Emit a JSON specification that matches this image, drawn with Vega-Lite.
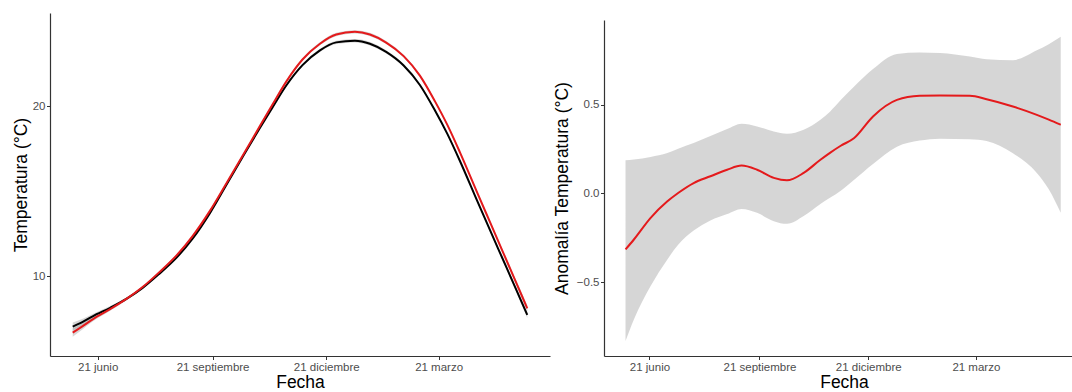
{
  "$schema": "https://vega.github.io/schema/vega-lite/v6.json",
  "background": "white",
  "padding": {"left": 12, "top": 13, "right": 0, "bottom": 0},
  "spacing": 3,
  "config": {
    "view": {"stroke": null},
    "font": "Liberation Sans",
    "axis": {
      "grid": false,
      "domainColor": "#333333",
      "domainWidth": 1.2,
      "tickColor": "#333333",
      "tickSize": 3.5,
      "tickWidth": 1,
      "labelColor": "#4d4d4d",
      "labelFont": "Liberation Sans",
      "labelFontSize": 11.5,
      "titleFont": "Liberation Sans",
      "titleFontSize": 17.5,
      "titleFontWeight": "normal",
      "titleColor": "#000000"
    },
    "axisX": {"labelPadding": 1.5, "titlePadding": 0.5},
    "axisY": {"labelPadding": 1.5}
  },
  "datasets": {
    "izq": [
      {"fecha": "2018-06-01T00:00:00", "serie": "reciente", "temp": 6.67, "lo": 6.42, "hi": 6.92},
      {"fecha": "2018-06-09T00:00:00", "serie": "reciente", "temp": 7.05, "lo": 6.87, "hi": 7.23},
      {"fecha": "2018-06-17T00:00:00", "serie": "reciente", "temp": 7.45, "lo": 7.32, "hi": 7.58},
      {"fecha": "2018-07-01T00:00:00", "serie": "reciente", "temp": 8.05, "lo": 7.95, "hi": 8.15},
      {"fecha": "2018-07-14T00:00:00", "serie": "reciente", "temp": 8.65, "lo": 8.57, "hi": 8.73},
      {"fecha": "2018-07-27T00:00:00", "serie": "reciente", "temp": 9.35, "lo": 9.28, "hi": 9.42},
      {"fecha": "2018-08-09T00:00:00", "serie": "reciente", "temp": 10.2, "lo": 10.13, "hi": 10.27},
      {"fecha": "2018-08-23T00:00:00", "serie": "reciente", "temp": 11.2, "lo": 11.13, "hi": 11.27},
      {"fecha": "2018-09-05T00:00:00", "serie": "reciente", "temp": 12.35, "lo": 12.28, "hi": 12.42},
      {"fecha": "2018-09-19T00:00:00", "serie": "reciente", "temp": 13.85, "lo": 13.78, "hi": 13.92},
      {"fecha": "2018-10-02T00:00:00", "serie": "reciente", "temp": 15.45, "lo": 15.38, "hi": 15.52},
      {"fecha": "2018-10-16T00:00:00", "serie": "reciente", "temp": 17.2, "lo": 17.13, "hi": 17.27},
      {"fecha": "2018-10-29T00:00:00", "serie": "reciente", "temp": 18.85, "lo": 18.78, "hi": 18.92},
      {"fecha": "2018-11-08T00:00:00", "serie": "reciente", "temp": 20.1, "lo": 20.03, "hi": 20.17},
      {"fecha": "2018-11-19T00:00:00", "serie": "reciente", "temp": 21.45, "lo": 21.37, "hi": 21.53},
      {"fecha": "2018-12-02T00:00:00", "serie": "reciente", "temp": 22.75, "lo": 22.67, "hi": 22.83},
      {"fecha": "2018-12-16T00:00:00", "serie": "reciente", "temp": 23.68, "lo": 23.59, "hi": 23.77},
      {"fecha": "2018-12-29T00:00:00", "serie": "reciente", "temp": 24.22, "lo": 24.12, "hi": 24.32},
      {"fecha": "2019-01-13T00:00:00", "serie": "reciente", "temp": 24.38, "lo": 24.28, "hi": 24.48},
      {"fecha": "2019-01-25T00:00:00", "serie": "reciente", "temp": 24.22, "lo": 24.12, "hi": 24.32},
      {"fecha": "2019-02-07T00:00:00", "serie": "reciente", "temp": 23.75, "lo": 23.66, "hi": 23.84},
      {"fecha": "2019-02-21T00:00:00", "serie": "reciente", "temp": 22.95, "lo": 22.87, "hi": 23.03},
      {"fecha": "2019-03-06T00:00:00", "serie": "reciente", "temp": 21.8, "lo": 21.72, "hi": 21.88},
      {"fecha": "2019-03-18T00:00:00", "serie": "reciente", "temp": 20.3, "lo": 20.22, "hi": 20.38},
      {"fecha": "2019-03-28T00:00:00", "serie": "reciente", "temp": 18.9, "lo": 18.82, "hi": 18.98},
      {"fecha": "2019-04-07T00:00:00", "serie": "reciente", "temp": 17.3, "lo": 17.22, "hi": 17.38},
      {"fecha": "2019-04-21T00:00:00", "serie": "reciente", "temp": 14.9, "lo": 14.82, "hi": 14.98},
      {"fecha": "2019-05-01T00:00:00", "serie": "reciente", "temp": 13.2, "lo": 13.11, "hi": 13.29},
      {"fecha": "2019-05-11T00:00:00", "serie": "reciente", "temp": 11.5, "lo": 11.4, "hi": 11.6},
      {"fecha": "2019-05-21T00:00:00", "serie": "reciente", "temp": 9.8, "lo": 9.67, "hi": 9.93},
      {"fecha": "2019-05-31T00:00:00", "serie": "reciente", "temp": 8.1, "lo": 7.92, "hi": 8.28},
      {"fecha": "2018-06-01T00:00:00", "serie": "referencia", "temp": 7.02, "lo": 6.77, "hi": 7.27},
      {"fecha": "2018-06-09T00:00:00", "serie": "referencia", "temp": 7.3, "lo": 7.12, "hi": 7.48},
      {"fecha": "2018-06-17T00:00:00", "serie": "referencia", "temp": 7.63, "lo": 7.5, "hi": 7.76},
      {"fecha": "2018-07-01T00:00:00", "serie": "referencia", "temp": 8.13, "lo": 8.03, "hi": 8.23},
      {"fecha": "2018-07-14T00:00:00", "serie": "referencia", "temp": 8.65, "lo": 8.57, "hi": 8.73},
      {"fecha": "2018-07-27T00:00:00", "serie": "referencia", "temp": 9.3, "lo": 9.23, "hi": 9.37},
      {"fecha": "2018-08-09T00:00:00", "serie": "referencia", "temp": 10.11, "lo": 10.04, "hi": 10.18},
      {"fecha": "2018-08-23T00:00:00", "serie": "referencia", "temp": 11.07, "lo": 11.0, "hi": 11.14},
      {"fecha": "2018-09-05T00:00:00", "serie": "referencia", "temp": 12.2, "lo": 12.13, "hi": 12.27},
      {"fecha": "2018-09-19T00:00:00", "serie": "referencia", "temp": 13.72, "lo": 13.65, "hi": 13.79},
      {"fecha": "2018-10-02T00:00:00", "serie": "referencia", "temp": 15.36, "lo": 15.29, "hi": 15.43},
      {"fecha": "2018-10-16T00:00:00", "serie": "referencia", "temp": 17.13, "lo": 17.06, "hi": 17.2},
      {"fecha": "2018-10-29T00:00:00", "serie": "referencia", "temp": 18.73, "lo": 18.66, "hi": 18.8},
      {"fecha": "2018-11-08T00:00:00", "serie": "referencia", "temp": 19.93, "lo": 19.86, "hi": 20.0},
      {"fecha": "2018-11-19T00:00:00", "serie": "referencia", "temp": 21.22, "lo": 21.14, "hi": 21.3},
      {"fecha": "2018-12-02T00:00:00", "serie": "referencia", "temp": 22.42, "lo": 22.34, "hi": 22.5},
      {"fecha": "2018-12-16T00:00:00", "serie": "referencia", "temp": 23.29, "lo": 23.2, "hi": 23.38},
      {"fecha": "2018-12-29T00:00:00", "serie": "referencia", "temp": 23.76, "lo": 23.66, "hi": 23.86},
      {"fecha": "2019-01-13T00:00:00", "serie": "referencia", "temp": 23.86, "lo": 23.76, "hi": 23.96},
      {"fecha": "2019-01-25T00:00:00", "serie": "referencia", "temp": 23.68, "lo": 23.58, "hi": 23.78},
      {"fecha": "2019-02-07T00:00:00", "serie": "referencia", "temp": 23.2, "lo": 23.11, "hi": 23.29},
      {"fecha": "2019-02-21T00:00:00", "serie": "referencia", "temp": 22.4, "lo": 22.32, "hi": 22.48},
      {"fecha": "2019-03-06T00:00:00", "serie": "referencia", "temp": 21.25, "lo": 21.17, "hi": 21.33},
      {"fecha": "2019-03-18T00:00:00", "serie": "referencia", "temp": 19.76, "lo": 19.68, "hi": 19.84},
      {"fecha": "2019-03-28T00:00:00", "serie": "referencia", "temp": 18.37, "lo": 18.29, "hi": 18.45},
      {"fecha": "2019-04-07T00:00:00", "serie": "referencia", "temp": 16.79, "lo": 16.71, "hi": 16.87},
      {"fecha": "2019-04-21T00:00:00", "serie": "referencia", "temp": 14.41, "lo": 14.33, "hi": 14.49},
      {"fecha": "2019-05-01T00:00:00", "serie": "referencia", "temp": 12.73, "lo": 12.64, "hi": 12.82},
      {"fecha": "2019-05-11T00:00:00", "serie": "referencia", "temp": 11.06, "lo": 10.96, "hi": 11.16},
      {"fecha": "2019-05-21T00:00:00", "serie": "referencia", "temp": 9.39, "lo": 9.26, "hi": 9.52},
      {"fecha": "2019-05-31T00:00:00", "serie": "referencia", "temp": 7.71, "lo": 7.53, "hi": 7.89}
    ],
    "der": [
      {"fecha": "2018-06-01T00:00:00", "anom": -0.316, "lo": -0.831, "hi": 0.186},
      {"fecha": "2018-06-08T00:00:00", "anom": -0.26, "lo": -0.71, "hi": 0.19},
      {"fecha": "2018-06-22T00:00:00", "anom": -0.138, "lo": -0.522, "hi": 0.205},
      {"fecha": "2018-07-06T00:00:00", "anom": -0.045, "lo": -0.372, "hi": 0.227},
      {"fecha": "2018-07-15T00:00:00", "anom": 0.002, "lo": -0.29, "hi": 0.251},
      {"fecha": "2018-07-28T00:00:00", "anom": 0.058, "lo": -0.21, "hi": 0.283},
      {"fecha": "2018-08-11T00:00:00", "anom": 0.096, "lo": -0.153, "hi": 0.323},
      {"fecha": "2018-08-25T00:00:00", "anom": 0.133, "lo": -0.117, "hi": 0.362},
      {"fecha": "2018-09-06T00:00:00", "anom": 0.156, "lo": -0.088, "hi": 0.392},
      {"fecha": "2018-09-19T00:00:00", "anom": 0.133, "lo": -0.11, "hi": 0.377},
      {"fecha": "2018-10-03T00:00:00", "anom": 0.087, "lo": -0.157, "hi": 0.348},
      {"fecha": "2018-10-14T00:00:00", "anom": 0.073, "lo": -0.172, "hi": 0.335},
      {"fecha": "2018-10-28T00:00:00", "anom": 0.115, "lo": -0.128, "hi": 0.358},
      {"fecha": "2018-11-11T00:00:00", "anom": 0.189, "lo": -0.06, "hi": 0.414},
      {"fecha": "2018-11-19T00:00:00", "anom": 0.228, "lo": -0.025, "hi": 0.46},
      {"fecha": "2018-11-28T00:00:00", "anom": 0.268, "lo": 0.015, "hi": 0.525},
      {"fecha": "2018-12-09T00:00:00", "anom": 0.31, "lo": 0.075, "hi": 0.6},
      {"fecha": "2018-12-25T00:00:00", "anom": 0.433, "lo": 0.165, "hi": 0.7},
      {"fecha": "2019-01-14T00:00:00", "anom": 0.526, "lo": 0.262, "hi": 0.785},
      {"fecha": "2019-02-02T00:00:00", "anom": 0.549, "lo": 0.297, "hi": 0.793},
      {"fecha": "2019-02-19T00:00:00", "anom": 0.551, "lo": 0.308, "hi": 0.79},
      {"fecha": "2019-03-16T00:00:00", "anom": 0.549, "lo": 0.305, "hi": 0.77},
      {"fecha": "2019-03-30T00:00:00", "anom": 0.53, "lo": 0.295, "hi": 0.755},
      {"fecha": "2019-04-21T00:00:00", "anom": 0.489, "lo": 0.226, "hi": 0.75},
      {"fecha": "2019-05-11T00:00:00", "anom": 0.442, "lo": 0.115, "hi": 0.805},
      {"fecha": "2019-05-21T00:00:00", "anom": 0.415, "lo": 0.023, "hi": 0.84},
      {"fecha": "2019-05-31T00:00:00", "anom": 0.386, "lo": -0.11, "hi": 0.882}
    ]
  },
  "hconcat": [
    {
      "width": 500,
      "height": 343,
      "data": {"name": "izq"},
      "encoding": {
        "x": {
          "field": "fecha",
          "type": "temporal",
          "title": "Fecha",
          "scale": {
            "nice": false,
            "domain": [
              {"year": 2018, "month": 5, "date": 13, "hours": 19, "minutes": 40},
              {"year": 2019, "month": 6, "date": 18, "hours": 4, "minutes": 48}
            ]
          },
          "axis": {
            "values": [
              {"year": 2018, "month": 6, "date": 21},
              {"year": 2018, "month": 9, "date": 21},
              {"year": 2018, "month": 12, "date": 21},
              {"year": 2019, "month": 3, "date": 21}
            ],
            "labelExpr": "'21 ' + ['enero','febrero','marzo','abril','mayo','junio','julio','agosto','septiembre','octubre','noviembre','diciembre'][month(datum.value)]"
          }
        }
      },
      "layer": [
        {
          "mark": {"type": "area", "color": "#999999", "opacity": 0.4, "interpolate": "monotone"},
          "encoding": {
            "y": {"field": "lo", "type": "quantitative", "scale": {"domain": [5.29, 25.49], "nice": false, "zero": false}, "title": "Temperatura (°C)", "axis": {"values": [10, 20], "titlePadding": 2}},
            "y2": {"field": "hi"},
            "detail": {"field": "serie"}
          }
        },
        {
          "transform": [{"filter": "datum.serie === 'referencia'"}],
          "mark": {"type": "line", "color": "#000000", "strokeWidth": 2, "interpolate": "monotone"},
          "encoding": {"y": {"field": "temp", "type": "quantitative"}}
        },
        {
          "transform": [{"filter": "datum.serie === 'reciente'"}],
          "mark": {"type": "line", "color": "#e41a1c", "strokeWidth": 2, "interpolate": "monotone"},
          "encoding": {"y": {"field": "temp", "type": "quantitative"}}
        }
      ]
    },
    {
      "spacing": 0,
      "vconcat": [
        {
          "width": 468,
          "height": 7,
          "data": {"values": [{"vacio": 0}]},
          "mark": {"type": "point", "opacity": 0}
        },
        {
          "width": 468,
          "height": 336,
          "data": {"name": "der"},
          "encoding": {
            "x": {
              "field": "fecha",
              "type": "temporal",
              "title": "Fecha",
              "scale": {
                "nice": false,
                "domain": [
                  {"year": 2018, "month": 5, "date": 14, "hours": 0},
                  {"year": 2019, "month": 6, "date": 9, "hours": 10}
                ]
              },
              "axis": {
                "titleX": 240,
                "values": [
                  {"year": 2018, "month": 6, "date": 21},
                  {"year": 2018, "month": 9, "date": 21},
                  {"year": 2018, "month": 12, "date": 21},
                  {"year": 2019, "month": 3, "date": 21}
                ],
                "labelExpr": "'21 ' + ['enero','febrero','marzo','abril','mayo','junio','julio','agosto','septiembre','octubre','noviembre','diciembre'][month(datum.value)]"
              }
            }
          },
          "layer": [
            {
              "mark": {"type": "area", "color": "#999999", "opacity": 0.4, "interpolate": "monotone"},
              "encoding": {
                "y": {"field": "lo", "type": "quantitative", "scale": {"domain": [-0.916, 0.976], "nice": false, "zero": false}, "title": "Anomalía Temperatura (°C)", "axis": {"values": [-0.5, 0, 0.5], "format": ".1f", "titlePadding": 5}},
                "y2": {"field": "hi"}
              }
            },
            {
              "mark": {"type": "rule", "color": "#000000", "strokeWidth": 1.5},
              "encoding": {"y": {"datum": 0, "type": "quantitative"}}
            },
            {
              "mark": {"type": "line", "color": "#e41a1c", "strokeWidth": 2, "interpolate": "monotone"},
              "encoding": {"y": {"field": "anom", "type": "quantitative"}}
            }
          ]
        }
      ]
    }
  ]
}
